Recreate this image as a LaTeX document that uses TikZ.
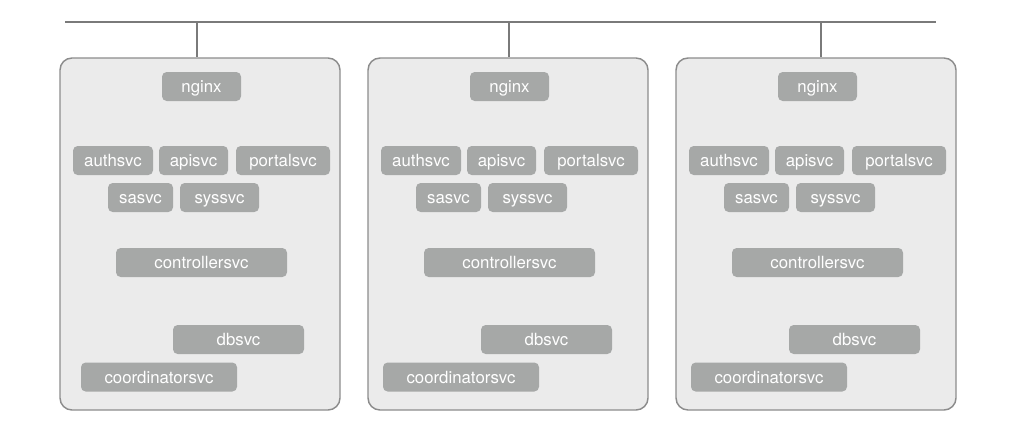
\documentclass[tikz,border=0pt]{standalone}
\usepackage{fontspec}
\setmainfont{TeX Gyre Heros}
\definecolor{busgray}{HTML}{7A7A7A}
\definecolor{hostfill}{HTML}{EBEBEB}
\definecolor{hostline}{HTML}{8C8C8C}
\definecolor{svcfill}{HTML}{A6A8A7}
\begin{document}
\begin{tikzpicture}[
          host/.style={draw=hostline, fill=hostfill, line width=1.1pt, rounded corners=9pt,
            minimum width=210pt, minimum height=264pt, inner sep=0pt},
          svc/.style={fill=svcfill, text=white, rounded corners=3.5pt, inner sep=0pt,
            minimum height=21.75pt, text height=9.6pt, text depth=0pt,
            font=\fontsize{12.6}{14}\selectfont},
          bus/.style={line width=1.1pt, busgray},
          x=0.75pt,
          y=-0.75pt,
        ]
      \useasboundingbox (0, 0) rectangle (1020, 432);
      \coordinate (busl) at (65, 22);
      \coordinate (busr) at (936, 22);
      \draw[bus] (busl) -- (busr);
      \foreach \i/\dx/\cx in {1/0/0, 2/308/302, 3/616/610} {
        \node[host] (host\i) at (200+\dx, 234) {};
        \coordinate (tap\i) at (197+312*\i-312, 22);
        \draw[bus] (tap\i) -- (tap\i |- host\i.north);
        \node[svc, minimum width=59.25pt] (nginx\i) at (201.5+\dx, 86.5) {nginx};
        \node[svc, minimum width=60pt] (auth\i) at (113+\dx, 160.5) {authsvc};
        \node[svc, minimum width=51.75pt] (api\i) at (193.5+\dx, 160.5) {apisvc};
        \node[svc, minimum width=70.5pt] (portal\i) at (283+\dx, 160.5) {portalsvc};
        \node[svc, minimum width=48.75pt] (sa\i) at (140.5+\dx, 197.5) {sasvc};
        \node[svc, minimum width=59.25pt] (sys\i) at (219.5+\dx, 197.5) {syssvc};
        \node[svc, minimum width=128.25pt] (ctrl\i) at (201.5+\dx, 262.5) {controllersvc};
        \node[svc, minimum width=98.25pt] (db\i) at (238.5+\dx, 339.5) {dbsvc};
        \node[svc, minimum width=117pt] (coord\i) at (159+\cx, 377) {coordinatorsvc};
      }
    \end{tikzpicture}
\end{document}
